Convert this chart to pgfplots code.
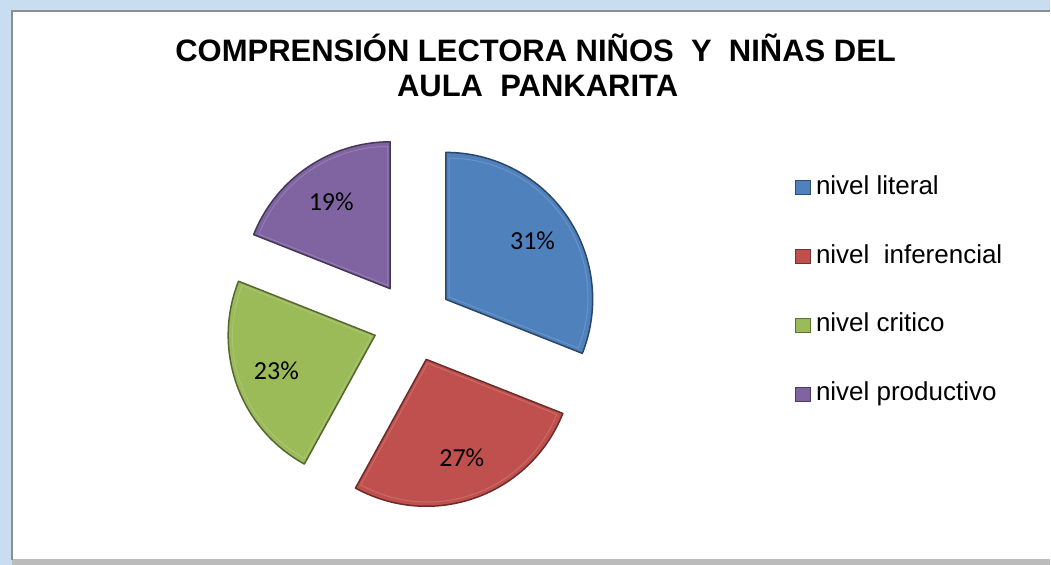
\documentclass[border=0pt]{standalone}
\usepackage{pgfplots}
\pgfplotsset{compat=1.18}
\usepackage{pgfplotstable}
\usepackage{fontspec}
\setmainfont{Liberation Sans}
\newfontfamily\calibri{Carlito}
\definecolor{pieblue}{HTML}{4F81BD}
\definecolor{piered}{HTML}{C0504D}
\definecolor{piegreen}{HTML}{9BBB59}
\definecolor{piepurple}{HTML}{8064A2}
\definecolor{glow}{HTML}{C9DDF1}
\definecolor{framegray}{HTML}{8E8E8E}

\pgfplotstableread{
value color
31 pieblue
27 piered
23 piegreen
19 piepurple
}\piedata

\tikzset{pctlabel/.style={font=\calibri\fontsize{26}{30}\selectfont, inner sep=0pt}}

\begin{document}
\begin{tikzpicture}
\begin{axis}[
  x=1pt, y=1pt,
  xmin=0, xmax=1051, ymin=0, ymax=565,
  hide axis, clip=false,
  legend cell align=left,
  legend style={
    at={(axis cs:795,391)}, anchor=north west,
    draw=none, fill=none, inner sep=0pt,
    font=\fontsize{26}{30}\selectfont,
    row sep=43pt,
    nodes={inner sep=1pt, text height=19pt, text depth=5pt},
    /tikz/every odd column/.append style={column sep=5pt},
  },
]
% frame
\fill[glow] (axis cs:0,0) rectangle (axis cs:1051,565);
\fill[white] (axis cs:12,5) rectangle (axis cs:1051,554);
\fill[framegray!60] (axis cs:12,0) rectangle (axis cs:1051,6);
\draw[framegray, line width=1.5pt] (axis cs:12,5) -- (axis cs:12,554) -- (axis cs:1051,554);
% title
\node[anchor=base, font=\bfseries\fontsize{31}{36}\selectfont] at (axis cs:536,503) {COMPRENSIÓN LECTORA NIÑOS\ \ Y\ \ NIÑAS DEL};
\node[anchor=base, font=\bfseries\fontsize{31}{36}\selectfont] at (axis cs:538,468) {AULA\ \ PANKARITA};
% pie slices
\def\cum{0}
\pgfplotsforeachungrouped \i in {0,...,3}{%
  \pgfplotstablegetelem{\i}{value}\of\piedata \let\v\pgfplotsretval
  \pgfplotstablegetelem{\i}{color}\of\piedata \let\c\pgfplotsretval
  \pgfmathsetmacro\sa{90-3.6*\cum}%
  \pgfmathsetmacro\ea{\sa-3.6*\v}%
  \pgfmathsetmacro\ma{(\sa+\ea)/2}%
  \pgfmathsetmacro\ax{413+40*cos(\ma)}%
  \pgfmathsetmacro\ay{243+40*sin(\ma)}%
  \pgfmathsetmacro\lx{413+145*cos(\ma)}%
  \pgfmathsetmacro\ly{243+145*sin(\ma)}%
  \edef\temp{%
    \noexpand\filldraw[fill=\c, draw=\c!55!black, line width=1.5pt, line join=round]
      (axis cs:\ax,\ay) -- ++(\sa:147pt) arc[start angle=\sa, end angle=\ea, radius=147pt] -- cycle;
    \noexpand\draw[\c!75!white, line width=1pt, opacity=0.6]
      (axis cs:\ax,\ay) ++(\ma:4pt) -- ++(\sa:139pt) arc[start angle=\sa, end angle=\ea, radius=139pt] -- cycle;
    \noexpand\node[pctlabel] at (axis cs:\lx,\ly) {\v\noexpand\%};
  }%
  \temp
  \pgfmathsetmacro\cum{\cum+\v}%
}
% legend
\addlegendimage{legend image code/.code={\filldraw[fill=pieblue, draw=pieblue!60!black] (0pt,-7pt) rectangle (15pt,7pt);}}
\addlegendentry{nivel literal}
\addlegendimage{legend image code/.code={\filldraw[fill=piered, draw=piered!60!black] (0pt,-7pt) rectangle (15pt,7pt);}}
\addlegendentry{nivel\ \ inferencial}
\addlegendimage{legend image code/.code={\filldraw[fill=piegreen, draw=piegreen!60!black] (0pt,-7pt) rectangle (15pt,7pt);}}
\addlegendentry{nivel critico}
\addlegendimage{legend image code/.code={\filldraw[fill=piepurple, draw=piepurple!60!black] (0pt,-7pt) rectangle (15pt,7pt);}}
\addlegendentry{nivel productivo}
\end{axis}
\end{tikzpicture}
\end{document}
